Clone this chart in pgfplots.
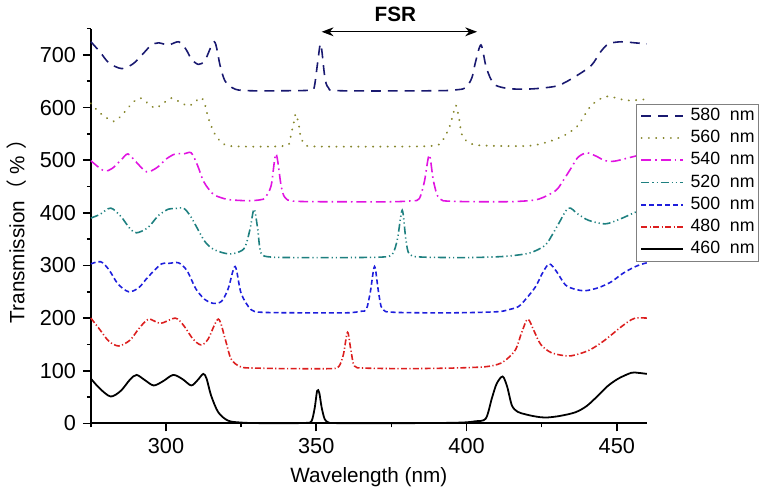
\documentclass[border=0pt]{standalone}
\usepackage{pgfplots}
\pgfplotsset{compat=1.18}
\usetikzlibrary{arrows.meta}
\usepackage{fontspec}
\setmainfont{Liberation Sans}
\newfontfamily\cjk{Noto Sans CJK SC}

\definecolor{c580}{RGB}{25,25,112}
\definecolor{c560}{RGB}{135,135,45}
\definecolor{c540}{RGB}{225,20,225}
\definecolor{c520}{RGB}{30,128,128}
\definecolor{c500}{RGB}{30,30,220}
\definecolor{c480}{RGB}{220,30,30}

\begin{document}
\begin{tikzpicture}
\begin{axis}[
    width=281bp, height=199.5bp, scale only axis,
    xmin=275, xmax=460, ymin=0, ymax=750,
    axis lines*=left,
    axis line style={line width=1bp},
    tick align=outside,
    major tick length=4bp, minor tick length=2bp,
    tick style={line width=0.8bp, black},
    xtick={300,350,400,450},
    minor xtick={275,325,375,425},
    ytick={0,100,...,700},
    minor ytick={50,150,...,750},
    ticklabel style={font=\fontsize{11}{13}\selectfont},
    /pgf/number format/assume math mode=true,
    xlabel={Wavelength (nm)},
    ylabel={Transmission{\cjk （}\hspace{0.3em}\%\hspace{0.3em}{\cjk ）}},
    label style={font=\fontsize{10.5}{12}\selectfont},
    clip=false,
    every axis plot/.append style={smooth, tension=0.5, line width=0.8bp},
    legend image code/.code={\draw[line width=0.9bp,#1] (0bp,0bp) -- (21bp,0bp); \path (-1bp,0bp) (23.5bp,0bp);},
    legend cell align=left,
    legend style={at={(0.98,0.81)}, anchor=north west, draw=gray,
      fill=white, font=\fontsize{9}{10}\selectfont,
      inner sep=1.2bp, row sep=1.9bp, nodes={inner sep=0.8bp}},
  ]

% 580 nm
\addplot[c580, dash pattern=on 5bp off 3.5bp] coordinates {
(275,725) (278,706) (281,685) (285.3,674) (289,683) (292,700) (295,718) (297.5,723)
(300.8,719) (304.2,725) (306.5,712) (308.5,692) (310.8,682) (313,690) (316.1,725)
(318,680) (319.7,650) (323,635) (328,632) (340,632) (348,633) (349.3,638) (350.5,687)
(351.5,721) (352.8,660) (354,638) (358,632) (390,632) (397,634) (399.8,638)
(401.8,657) (403,687) (404.8,719) (406.4,680) (408,655) (409.8,642) (414.1,636)
(419.7,635) (425,637) (430.6,642) (436.2,659) (441.5,680) (444.5,705) (447.2,721)
(451.5,725) (456,723) (460,721)};
\addlegendentry{580~~nm}

% 560 nm
\addplot[c560, line cap=round, dash pattern=on 0.1bp off 3.6bp, line width=1bp] coordinates {
(275,608) (278,590) (282.6,574) (286,590) (289,610) (291.5,618) (294,608) (296.5,599)
(299,608) (301.8,618) (304.5,611) (307.4,603) (309.5,610) (311.7,619) (313,605)
(314.1,580) (316.4,548) (319.7,529) (325,526) (335,526) (339,527) (340.9,530)
(341.6,548) (342.5,571) (343.2,588) (344.2,567) (344.9,542) (346.5,530) (350,526)
(380,526) (388,527) (390.9,530) (391.9,536) (394.2,561) (395.8,593) (396.5,604)
(397.5,580) (398.5,548) (400.8,533) (405,528) (420,527) (426,533) (430.6,542)
(434,552) (437.2,567) (441.5,604) (446.5,621) (452.8,614) (456,614) (460,616)};
\addlegendentry{560~~nm}

% 540 nm
\addplot[c540, dash pattern=on 5bp off 2bp on 0.8bp off 2bp] coordinates {
(275,499) (279.3,480) (282,484) (285,500) (287.3,512) (290,497) (293.5,478) (297,486)
(300,502) (303.1,512) (306,512) (308.4,514) (310.5,490) (312.4,461) (314.5,443)
(316.4,433) (320,426) (323,424) (328,423) (331.6,425) (333,429) (335,452) (336.6,512)
(338.3,452) (339.6,429) (343,422) (360,421) (375,421) (382,423) (384.3,427) (386,460)
(387.6,510) (389,460) (390.9,427) (395,422) (410,421) (418,422) (424,426) (429.6,442)
(432,460) (434.9,486) (437,505) (439.9,514) (443,508) (446.1,499) (449,498)
(451.5,501) (456.4,508) (460,512)};
\addlegendentry{540~~nm}

% 520 nm
\addplot[c520, dash pattern=on 4bp off 1.5bp on 0.6bp off 1.5bp on 0.6bp off 1.5bp] coordinates {
(275,390) (278,397) (281.6,409) (285,393) (288,370) (290.2,362) (294,372) (297.5,395)
(300.8,407) (303,408) (305.8,409) (308,395) (309.8,377) (313,345) (316,330)
(320.7,322) (324,325) (326.3,335) (328,370) (329.3,407) (330.5,370) (331.6,324)
(334.9,316) (345,315) (360,315) (372,316) (375.3,321) (377,350) (378.6,405)
(379.8,350) (381,321) (385,316) (400,315) (412,317) (419.7,322) (423,328)
(426.3,339) (428.5,358) (430.6,379) (433.9,409) (437,398) (440.5,386) (446.1,379)
(451,388) (456.1,401) (460,410)};
\addlegendentry{520~~nm}

% 500 nm
\addplot[c500, dash pattern=on 2.5bp off 1.5bp] coordinates {
(275,303) (278.3,307) (281,292) (284,265) (287.6,250) (291,258) (294,278) (298.5,303)
(301,304) (304.2,305) (307,290) (310,255) (313,235) (315.7,228) (318.5,232)
(320.7,256) (323,298) (325,247) (328.3,216) (332,211) (345,210) (360,210) (365,213)
(366.7,217) (368,250) (369.4,298) (370.7,250) (372,217) (376,211) (395,210)
(410,212) (414,216) (417.3,222) (420,238) (423,260) (425.5,288) (427.6,303)
(430,288) (432.9,263) (436,255) (439.5,252) (444,258) (448.2,269) (451.5,283)
(454.8,294) (457.5,301) (460,305)};
\addlegendentry{500~~nm}

% 480 nm
\addplot[c480, dash pattern=on 3bp off 1.2bp on 0.6bp off 1.2bp] coordinates {
(275,200) (278,178) (281,156) (284.3,147) (288,158) (291,180) (294.2,198) (298.2,190)
(303.1,200) (306,185) (309,160) (311.7,149) (314,160) (317.4,198) (319.7,160)
(321.7,122) (325,107) (330,105) (340,104) (355,104) (357.5,108) (359,130)
(360.4,173) (361.5,140) (362.7,109) (366,105) (380,104) (395,105) (405,107)
(409,110) (411.7,115) (414,125) (416.4,141) (418.5,175) (420.4,198) (422.5,175)
(424.7,150) (428.3,134) (433.9,128) (438,133) (441.5,141) (446,158) (450.5,179)
(453.5,192) (456.1,200) (460,200)};
\addlegendentry{480~~nm}

% 460 nm
\addplot[black, solid, line width=0.9bp] coordinates {
(275,85) (278,66) (281.6,51) (285,62) (288,83) (290.2,92) (293,82) (295.9,72) (299,80)
(302.4,92) (305.5,84) (308.4,72) (310.5,82) (312.4,94) (313.5,85) (315,53)
(317.4,21) (320.7,5) (325,1.5) (330,0.5) (340,0.3) (347,1) (348.5,5) (349.5,30)
(350.3,62) (351,58) (351.8,30) (352.8,8) (354,2) (356,0.5) (370,0.3) (385,0.5)
(395,1) (400,2) (403,4) (406.4,9) (408.4,47) (410,75) (412,89) (413.5,70) (415.1,34)
(417,22) (419.7,17) (423,13) (426.3,11) (431,14) (436.2,21) (440,33) (443.8,53)
(447,71) (450.5,85) (454.8,96) (457,96) (460,94)};
\addlegendentry{460~~nm}

\draw[{Stealth[length=6bp,width=4.5bp]}-{Stealth[length=6bp,width=4.5bp]}, line width=0.6bp]
  (axis cs:351.8,744) -- (axis cs:403.5,744);
\node[font=\bfseries\fontsize{10.5}{12}\selectfont] at (axis cs:376.3,778) {FSR};
\end{axis}
\end{tikzpicture}
\end{document}
